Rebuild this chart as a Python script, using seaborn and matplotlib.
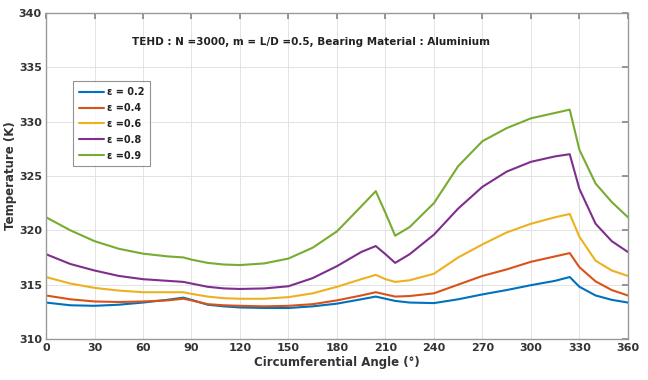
import numpy as np
import pandas as pd
import matplotlib
matplotlib.use("Agg")
import matplotlib.pyplot as plt
import seaborn as sns

angles = [0, 15, 30, 45, 60, 75, 85, 90, 100, 110, 120, 135, 150, 165, 180, 195,
          204, 210, 216, 225, 240, 255, 270, 285, 300, 315, 324, 330, 340, 350, 360]

t_02 = [313.35, 313.1, 313.05, 313.15, 313.35, 313.6, 313.8, 313.6, 313.15, 313.0, 312.9,
        312.85, 312.85, 313.0, 313.25, 313.65, 313.9, 313.7, 313.5, 313.35, 313.3, 313.65,
        314.1, 314.5, 314.95, 315.35, 315.7, 314.8, 314.0, 313.6, 313.35]
t_04 = [314.0, 313.65, 313.45, 313.4, 313.45, 313.55, 313.7, 313.55, 313.2, 313.1, 313.05,
        313.0, 313.05, 313.2, 313.55, 314.0, 314.3, 314.1, 313.9, 313.95, 314.2, 315.0,
        315.8, 316.4, 317.1, 317.6, 317.9, 316.6, 315.3, 314.5, 314.0]
t_06 = [315.7, 315.1, 314.7, 314.45, 314.3, 314.3, 314.3, 314.15, 313.9, 313.75, 313.7,
        313.7, 313.85, 314.2, 314.8, 315.5, 315.9, 315.5, 315.25, 315.4, 316.0, 317.5,
        318.7, 319.8, 320.6, 321.2, 321.5, 319.4, 317.2, 316.3, 315.8]
t_08 = [317.8, 316.9, 316.3, 315.8, 315.5, 315.35, 315.25, 315.1, 314.8, 314.65, 314.6,
        314.65, 314.85, 315.6, 316.7, 318.0, 318.55, 317.8, 317.0, 317.8, 319.6, 322.0,
        324.0, 325.4, 326.3, 326.8, 327.0, 323.8, 320.6, 319.0, 318.0]
t_09 = [321.2, 320.0, 319.0, 318.3, 317.85, 317.6, 317.5, 317.3, 317.0, 316.85, 316.8,
        316.95, 317.4, 318.4, 319.9, 322.2, 323.6, 321.6, 319.5, 320.3, 322.5, 325.9,
        328.2, 329.4, 330.3, 330.8, 331.1, 327.4, 324.3, 322.6, 321.2]

labels = ["\u03b5 = 0.2", "\u03b5 =0.4", "\u03b5 =0.6", "\u03b5 =0.8", "\u03b5 =0.9"]
colors = ["#0072BD", "#D95319", "#EDB120", "#7E2F8E", "#77AC30"]
x_ticks = [0, 30, 60, 90, 120, 150, 180, 210, 240, 270, 300, 330, 360]
y_ticks = [310, 315, 320, 325, 330, 335, 340]

series = [t_02, t_04, t_06, t_08, t_09]
df = pd.concat([pd.DataFrame({"angle": angles, "temp": s, "eps": lab})
                for s, lab in zip(series, labels)], ignore_index=True)

sns.set_theme(style="whitegrid")
plt.rcParams["font.family"] = ["DejaVu Sans"]

fig = plt.figure(figsize=(6.48, 3.8), dpi=100)
ax = fig.add_axes([0.071, 0.108, 0.898, 0.858])

sns.lineplot(data=df, x="angle", y="temp", hue="eps", hue_order=labels,
             palette=colors, linewidth=1.5, ax=ax, legend=True)

ax.set_xlim(0, 360)
ax.set_ylim(310, 340)
ax.set_xticks(x_ticks)
ax.set_yticks(y_ticks)
ax.grid(True, color="#e3e3e3", linewidth=0.7)
for sp in ax.spines.values():
    sp.set_color("#999999")
    sp.set_linewidth(1.0)
ax.tick_params(direction="in", length=4, color="#888888", top=True, right=True,
               labelsize=8, labelcolor="#333333", pad=3)
for lab in ax.get_xticklabels() + ax.get_yticklabels():
    lab.set_fontweight("bold")

ax.set_xlabel("Circumferential Angle (\u00b0)", fontsize=8.5, fontweight="bold",
              color="#333333", labelpad=2)
ax.set_ylabel("Temperature (K)", fontsize=8.5, fontweight="bold",
              color="#333333", labelpad=1)

ax.text(164, 337.3, "TEHD : N =3000, m = L/D =0.5, Bearing Material : Aluminium",
        ha="center", va="center", fontsize=7.5, fontweight="bold", color="#222222")

leg = ax.legend(title=None, loc="upper left", bbox_to_anchor=(0.038, 0.805),
                fontsize=7, frameon=True, fancybox=False, handlelength=2.6,
                handletextpad=0.3, borderpad=0.6, labelspacing=0.6)
leg.get_frame().set_edgecolor("#777777")
leg.get_frame().set_linewidth(0.8)
for t in leg.get_texts():
    t.set_fontweight("bold")
    t.set_color("#222222")

fig.savefig("out.png", dpi=100)
